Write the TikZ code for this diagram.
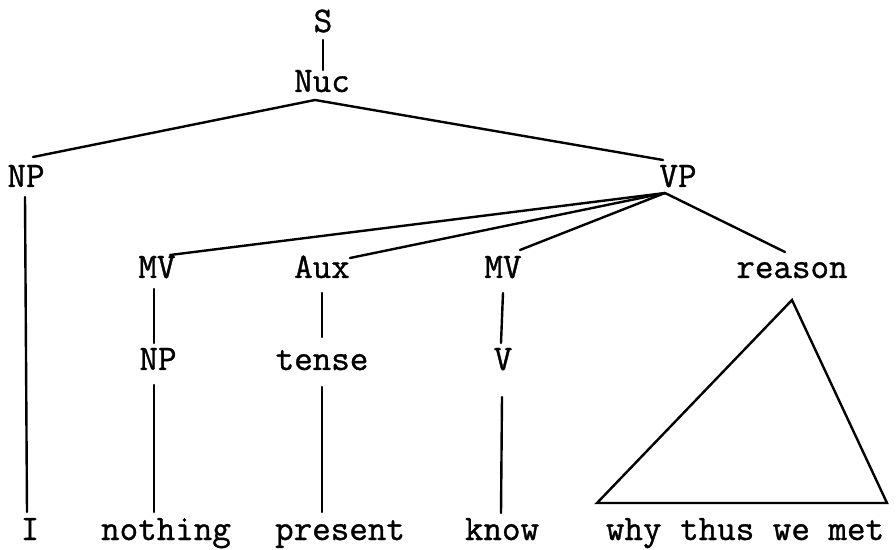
\documentclass[tikz,border=0pt]{standalone}
\usepackage{fontspec}
\setmonofont{Latin Modern Mono}[FakeBold=1]
\begin{document}
\begin{tikzpicture}[x=1pt,y=1pt,
  lbl/.style={font=\ttfamily\fontsize{36}{36}\selectfont, anchor=base, inner sep=0pt},
  edge/.style={line width=2.4pt, line cap=round}]
\useasboundingbox (0,0) rectangle (896,549);
% labels
\node[lbl] (S) at (323,517) {S};
\node[lbl] (Nuc) at (322,457) {Nuc};
\node[lbl] (NP) at (26,362) {NP};
\node[lbl] (VP) at (678,362) {VP};
\node[lbl] (MVa) at (157,271) {MV};
\node[lbl] (Aux) at (322,271) {Aux};
\node[lbl] (MVb) at (503,271) {MV};
\node[lbl] (reason) at (792,271) {reason};
\node[lbl] (NPb) at (158,179) {NP};
\node[lbl] (tense) at (322,179) {tense};
\node[lbl] (V) at (503,179) {V};
\node[lbl] (I) at (30,9) {I};
\node[lbl] (nothing) at (166,9) {nothing};
\node[lbl] (present) at (340,9) {present};
\node[lbl] (know) at (502,9) {know};
\node[lbl] (why) at (745,9) {why thus we met};
% connector end points
\coordinate (Sb) at (323,509);
\coordinate (Nuct) at (323,479);
\coordinate (Nucb) at (315,449);
\coordinate (NPt) at (33,392);
\coordinate (VPt) at (663,389);
\coordinate (NPbot) at (25,352);
\coordinate (It) at (27,37);
\coordinate (VPb) at (665,356);
\coordinate (MVat) at (170,294);
\coordinate (Auxt) at (350,291);
\coordinate (MVbt) at (520,299);
\coordinate (reasont) at (785,297);
\coordinate (MVab) at (154,260);
\coordinate (NPbt) at (154,206);
\coordinate (Auxb) at (322,256);
\coordinate (tenset) at (322,212);
\coordinate (MVbb) at (503,256);
\coordinate (Vt) at (501,206);
\coordinate (NPbb) at (154,164);
\coordinate (nothingt) at (154,37);
\coordinate (tenseb) at (322,162);
\coordinate (presentt) at (322,37);
\coordinate (Vb) at (502,152);
\coordinate (knowt) at (501,36);
\coordinate (triA) at (792,249);
\coordinate (triL) at (597,46);
\coordinate (triR) at (887,46);
% connectors
\draw[edge] (Sb) -- (Nuct);
\draw[edge] (NPt) -- (Nucb) -- (VPt);
\draw[edge] (NPbot) -- (It);
\draw[edge] (MVat) -- (VPb);
\draw[edge] (Auxt) -- (VPb);
\draw[edge] (MVbt) -- (VPb);
\draw[edge] (reasont) -- (VPb);
\draw[edge] (MVab) -- (NPbt);
\draw[edge] (Auxb) -- (tenset);
\draw[edge] (MVbb) -- (Vt);
\draw[edge] (NPbb) -- (nothingt);
\draw[edge] (tenseb) -- (presentt);
\draw[edge] (Vb) -- (knowt);
\draw[edge, line join=miter] (triA) -- (triL) -- (triR) -- cycle;
\end{tikzpicture}
\end{document}
